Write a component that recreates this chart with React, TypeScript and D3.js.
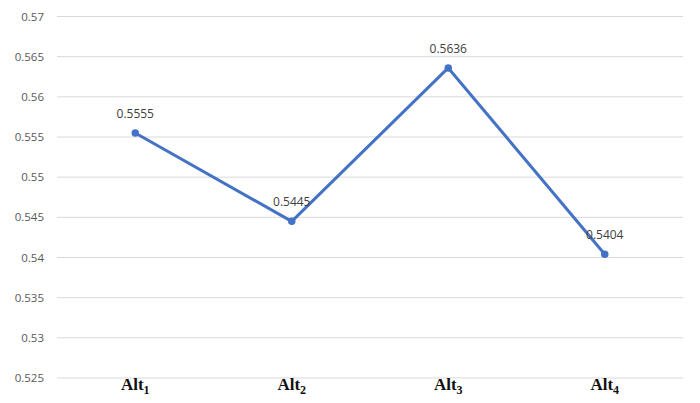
import React from "react";
import * as d3 from "d3";

const categories = ["1", "2", "3", "4"];
const values = [0.5555, 0.5445, 0.5636, 0.5404];
const labels = ["0.5555", "0.5445", "0.5636", "0.5404"];
const yTicks = [0.525, 0.53, 0.535, 0.54, 0.545, 0.55, 0.555, 0.56, 0.565, 0.57];

export default function App() {
  const W = 700, H = 403;
  const left = 57, right = 683, top = 16.5, bottom = 378;
  const x = d3.scaleBand<string>().domain(categories).range([left, right]);
  const y = d3.scaleLinear().domain([0.525, 0.57]).range([bottom, top]);
  const line = d3
    .line<number>()
    .x((_, i) => (x(categories[i]) as number) + x.bandwidth() / 2)
    .y((d) => y(d));
  return (
    <svg width={W} height={H} style={{ position: "absolute", left: 0, top: 0, background: "#fff" }}>
      <rect width={W} height={H} fill="#fff" />
      {yTicks.map((t) => (
        <g key={t}>
          <line x1={left} x2={right} y1={y(t)} y2={y(t)} stroke="#d9d9d9" strokeWidth={1} />
          <text
            x={44}
            y={y(t)}
            dy="0.35em"
            textAnchor="end"
            fontFamily="'Open Sans', 'Noto Sans', sans-serif"
            fontSize={11.5}
            fill="#595959"
          >
            {String(t)}
          </text>
        </g>
      ))}
      <path d={line(values) || ""} fill="none" stroke="#4472C4" strokeWidth={3} strokeLinejoin="round" />
      {values.map((v, i) => {
        const cx = (x(categories[i]) as number) + x.bandwidth() / 2;
        return (
          <g key={i}>
            <circle cx={cx} cy={y(v)} r={3.75} fill="#4472C4" />
            <text
              x={cx}
              y={y(v) - 15}
              textAnchor="middle"
              fontFamily="'Open Sans', 'Noto Sans', sans-serif"
              fontSize={12}
              fill="#404040"
            >
              {labels[i]}
            </text>
          </g>
        );
      })}
      {categories.map((c) => {
        const cx = (x(c) as number) + x.bandwidth() / 2;
        return (
          <text
            key={c}
            x={cx}
            y={390}
            textAnchor="middle"
            fontFamily="'Liberation Serif', serif"
            fontSize={17}
            fontWeight="bold"
            fill="#111"
          >
            Alt
            <tspan fontSize={12} dy={4}>{c}</tspan>
          </text>
        );
      })}
    </svg>
  );
}
